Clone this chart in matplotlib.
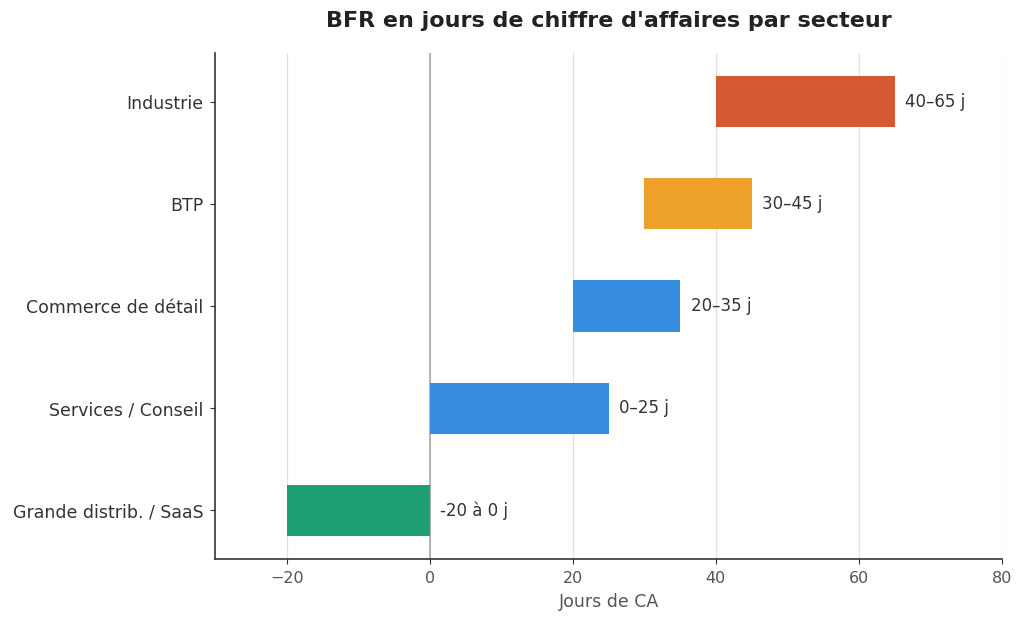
import matplotlib
matplotlib.use("Agg")
import matplotlib.pyplot as plt

# secteurs, du haut vers le bas
secteurs = ["Industrie", "BTP", "Commerce de détail", "Services / Conseil", "Grande distrib. / SaaS"]
debut = [40, 30, 20, 0, -20]
fin = [65, 45, 35, 25, 0]
etiquettes = ["40–65 j", "30–45 j", "20–35 j", "0–25 j", "-20 à 0 j"]
couleurs = ["#D65A31", "#EDA02A", "#368CE0", "#368CE0", "#1E9E75"]

fig = plt.figure(figsize=(10.24, 6.21), dpi=100)
ax = fig.add_axes([0.21, 0.0998, 0.7685, 0.8148])

# ordre inversé pour avoir Industrie en haut
ypos = list(range(len(secteurs)))[::-1]
largeurs = [f - d for d, f in zip(debut, fin)]
ax.barh(ypos, largeurs, left=debut, height=0.5, color=couleurs, zorder=3)

for y, f, txt in zip(ypos, fin, etiquettes):
    ax.text(f + 1.5, y, txt, va="center", ha="left", fontsize=12, color="#333333")

ax.axvline(0, color="#AAAAAA", linewidth=1.2, zorder=2)
ax.set_xlim(-30, 80)
ax.set_xticks([-20, 0, 20, 40, 60, 80])
ax.set_yticks(ypos)
ax.set_yticklabels(secteurs)
ax.grid(axis="x", color="#E0E0E0", linewidth=0.9, zorder=0)
ax.set_axisbelow(True)

ax.spines["top"].set_visible(False)
ax.spines["right"].set_visible(False)
for s in ("left", "bottom"):
    ax.spines[s].set_color("#333333")
    ax.spines[s].set_linewidth(1.2)
ax.tick_params(axis="y", labelsize=12.5, labelcolor="#333333", color="#333333", pad=5)
ax.tick_params(axis="x", labelsize=11.5, labelcolor="#555555", color="#333333", pad=5)

ax.set_xlabel("Jours de CA", fontsize=12.5, color="#555555", labelpad=5)
fig.suptitle("BFR en jours de chiffre d'affaires par secteur", fontsize=16,
             fontweight="bold", color="#222222", x=0.595, y=0.982, va="top")

fig.savefig("out.png", dpi=100)
